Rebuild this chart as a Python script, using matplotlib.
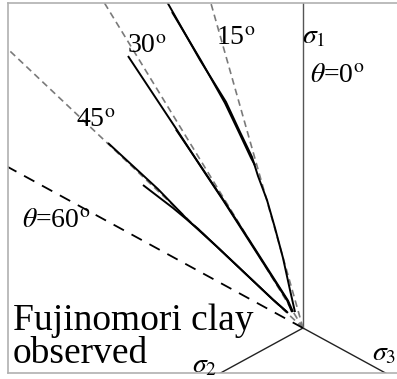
import numpy as np
import matplotlib.pyplot as plt

plt.rcParams['font.family'] = 'Liberation Serif'
plt.rcParams['mathtext.fontset'] = 'stix'

# deviatoric plane window (x: horizontal, y: along sigma_1)
x_lim = (-2.95, 0.94)
y_lim = (-0.476, 3.439)

# Lode angles of the reference lines, degrees from sigma_1 towards sigma_2
ray_angles = [15, 30, 45]
ray_60 = 60
# principal stress axes, degrees counter-clockwise from +x
axis_angles = [90, 210, 330]

# observed stress paths in the deviatoric plane
path_15_x = [-0.08, -0.13, -0.20, -0.28, -0.36, -0.45, -0.51, -0.63, -0.77, -1.03, -1.37]
path_15_y = [0.169, 0.402, 0.741, 1.058, 1.354, 1.608, 1.810, 2.074, 2.392, 2.836, 3.470]
path_15b_x = [-0.48, -0.52, -0.64, -0.78, -1.02, -1.31]
path_15b_y = [1.72, 1.80, 2.07, 2.38, 2.83, 3.344]
path_30_x = [-0.11, -0.16, -0.48, -0.80, -0.98, -1.28, -1.75]
path_30_y = [0.169, 0.296, 0.825, 1.354, 1.640, 2.127, 2.878]
path_30b_x = [-0.10, -0.15, -0.47, -0.79, -0.97, -1.27]
path_30b_y = [0.17, 0.29, 0.82, 1.345, 1.63, 2.10]
path_45_x = [-0.16, -0.30, -0.60, -0.86, -1.13, -1.45, -1.95]
path_45_y = [0.17, 0.30, 0.60, 0.86, 1.12, 1.47, 1.958]
path_45b_x = [-0.15, -0.30, -0.60, -0.80, -1.05, -1.30, -1.60]
path_45b_y = [0.16, 0.30, 0.60, 0.80, 1.05, 1.27, 1.513]

fig = plt.figure(figsize=(3.97, 3.79), dpi=100)
ax = fig.add_axes([8 / 397, 6 / 379, 389 / 397, 370 / 379])
ax.set_xlim(*x_lim)
ax.set_ylim(*y_lim)
ax.set_xticks([])
ax.set_yticks([])
for side in ('left', 'top', 'bottom'):
    ax.spines[side].set_color('#b0b0b0')
    ax.spines[side].set_linewidth(1.2)
ax.spines['right'].set_visible(False)

r = 6.0
# principal axes
for a in axis_angles:
    t = np.radians(a)
    ax.plot([0, r * np.cos(t)], [0, r * np.sin(t)],
            color='#555555' if a == 90 else '#222222', lw=1.0)

# constant Lode angle lines
for th in ray_angles:
    t = np.radians(th)
    ax.plot([0, -r * np.sin(t)], [0, r * np.cos(t)], color='#7a7a7a',
            lw=1.2, linestyle=(0, (4, 2.6)))
t = np.radians(ray_60)
ax.plot([0, -r * np.sin(t)], [0, r * np.cos(t)], color='black',
        lw=1.3, linestyle=(0, (6.5, 4.8)))

# observed paths
for px, py in ((path_15_x, path_15_y), (path_15b_x, path_15b_y),
               (path_30_x, path_30_y), (path_30b_x, path_30b_y),
               (path_45_x, path_45_y), (path_45b_x, path_45b_y)):
    ax.plot(px, py, color='black', lw=1.4, solid_capstyle='butt')

lab = dict(fontsize=20, ha='left', va='baseline')
ax.text(-1.76, 2.91, r'30$^{\rm o}$', **lab)
ax.text(-0.87, 2.995, r'15$^{\rm o}$', **lab)
ax.text(-2.27, 2.127, r'45$^{\rm o}$', **lab)
ax.text(-2.81, 1.069, r'$\theta$=60$^{\rm o}$', **lab)
ax.text(0.07, 2.603, r'$\theta$=0$^{\rm o}$', **lab)
ax.text(-0.01, 3.016, r'$\sigma_1$', **lab)
ax.text(-1.11, -0.466, r'$\sigma_2$', clip_on=False, **lab)
ax.text(0.69, -0.339, r'$\sigma_3$', **lab)
ax.text(-2.90, -0.021, 'Fujinomori clay', fontsize=27, ha='left', va='baseline')
ax.text(-2.90, -0.370, 'observed', fontsize=27, ha='left', va='baseline')

fig.savefig('out.png', dpi=100)
